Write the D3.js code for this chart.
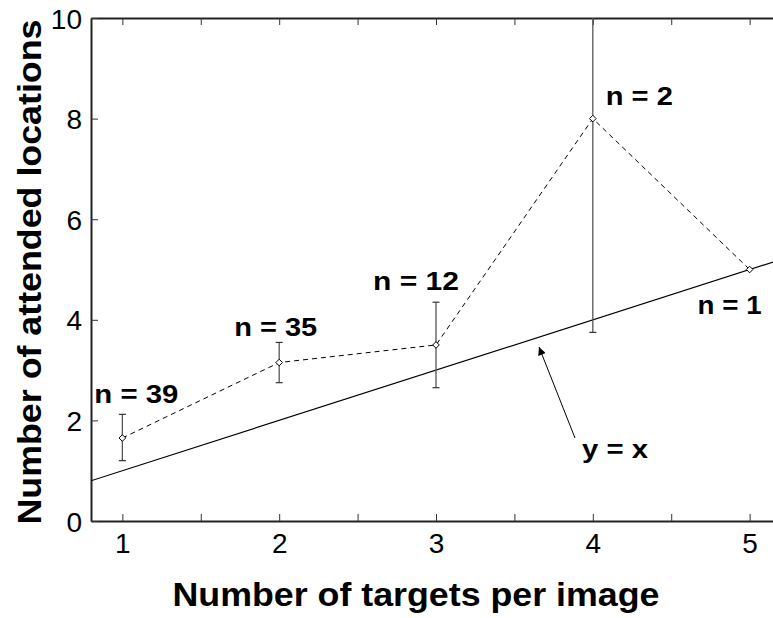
<!DOCTYPE html>
<html>
<head>
<meta charset="utf-8">
<script src="https://cdn.jsdelivr.net/npm/d3@7"></script>
<style>
  body { margin: 0; background: #fff; }
  text { font-family: "Liberation Sans", Arial, sans-serif; }
</style>
</head>
<body>
<svg width="773" height="618"></svg>
<script>
// data
var targets = [1, 2, 3, 4, 5];
var meanAttended = [1.65, 3.15, 3.5, 8, 5];
var errLow = [1.2, 2.75, 2.65, 3.75, null];
var errHigh = [2.12, 3.55, 4.35, 12.25, null];
var nLabels = ["n = 39", "n = 35", "n = 12", "n = 2", "n = 1"];
var xTicks = [1, 2, 3, 4, 5];
var yTicks = [0, 2, 4, 6, 8, 10];

var margin = {top: 18, right: -8, bottom: 97, left: 91};
var width = 773 - margin.left - margin.right,
    height = 618 - margin.top - margin.bottom;

var svg = d3.select("svg")
    .append("g")
    .attr("transform", "translate(" + margin.left + "," + margin.top + ")");

var x = d3.scaleLinear().domain([0.8, 5.2]).range([0, width]);
var y = d3.scaleLinear().domain([0, 10]).range([height, 0]);

svg.append("clipPath").attr("id", "plot")
    .append("rect").attr("width", width).attr("height", height);

// axes: ticks point inward, x has ticks every half unit
var minorX = d3.range(1, 5.01, 0.5);
var xAxis = d3.axisBottom(x).tickValues(minorX).tickSizeInner(-7).tickSizeOuter(0)
    .tickFormat(function(d) { return xTicks.indexOf(d) >= 0 ? d : ""; });
var gx = svg.append("g").attr("transform", "translate(0," + height + ")").call(xAxis);
gx.selectAll("text").attr("y", 32).attr("dy", 0).style("font-size", "28px").attr("fill", "#000");

svg.append("g").call(d3.axisTop(x).tickValues(minorX).tickSizeInner(-7).tickSizeOuter(0).tickFormat(""));

var yAxis = d3.axisLeft(y).tickValues(yTicks).tickSizeInner(-7).tickSizeOuter(0).tickFormat(d3.format("d"));
var gy = svg.append("g").call(yAxis);
gy.selectAll("text").attr("x", -9).attr("dy", "0.36em").style("font-size", "28px").attr("fill", "#000");

svg.selectAll(".domain").attr("stroke", "#222").attr("stroke-width", 2);
svg.selectAll(".tick line").attr("stroke", "#333");

var plot = svg.append("g").attr("clip-path", "url(#plot)");

// y = x reference line
plot.append("line")
    .attr("x1", x(0.8)).attr("y1", y(0.8))
    .attr("x2", x(5.2)).attr("y2", y(5.2))
    .attr("stroke", "#000").attr("stroke-width", 1.2);

// error bars
var bars = targets.map(function(t, i) { return {t: t, lo: errLow[i], hi: errHigh[i]}; })
    .filter(function(d) { return d.lo != null; });
plot.selectAll(".err").data(bars).enter().append("line")
    .attr("x1", function(d) { return x(d.t); }).attr("x2", function(d) { return x(d.t); })
    .attr("y1", function(d) { return y(d.lo); }).attr("y2", function(d) { return y(d.hi); })
    .attr("stroke", "#555").attr("stroke-width", 1.3);
["lo", "hi"].forEach(function(k) {
  plot.selectAll(".cap-" + k).data(bars).enter().append("line")
      .attr("x1", function(d) { return x(d.t) - 3.5; }).attr("x2", function(d) { return x(d.t) + 3.5; })
      .attr("y1", function(d) { return y(d[k]); }).attr("y2", function(d) { return y(d[k]); })
      .attr("stroke", "#333").attr("stroke-width", 1.2);
});

// dashed mean line
var line = d3.line().x(function(d, i) { return x(targets[i]); }).y(function(d) { return y(d); });
plot.append("path").datum(meanAttended)
    .attr("d", line).attr("fill", "none")
    .attr("stroke", "#000").attr("stroke-width", 1).attr("stroke-dasharray", "5,4");

// diamond markers
plot.selectAll(".pt").data(meanAttended).enter().append("path")
    .attr("d", d3.symbol().type(d3.symbolDiamond2).size(28))
    .attr("transform", function(d, i) { return "translate(" + x(targets[i]) + "," + y(d) + ")"; })
    .attr("fill", "#fff").attr("stroke", "#000").attr("stroke-width", 1);

// n labels: offsets from each point, widths matched to the reference
var labelPos = [[-28, -35], [-45, -27], [-63, -55], [13, -14], [-52, 44]];
var labelLen = [84, 83, 86, 67, 64];
svg.selectAll(".nlab").data(nLabels).enter().append("text")
    .attr("x", function(d, i) { return x(targets[i]) + labelPos[i][0]; })
    .attr("y", function(d, i) { return y(meanAttended[i]) + labelPos[i][1]; })
    .attr("textLength", function(d, i) { return labelLen[i]; })
    .attr("lengthAdjust", "spacingAndGlyphs")
    .style("font-size", "25px").style("font-weight", "bold")
    .text(function(d) { return d; });

// y = x annotation with arrow
svg.append("defs").append("marker").attr("id", "arrow")
    .attr("viewBox", "0 0 10 10").attr("refX", 10).attr("refY", 5)
    .attr("markerWidth", 11).attr("markerHeight", 8).attr("orient", "auto")
    .attr("markerUnits", "userSpaceOnUse")
    .append("path").attr("d", "M0,0L10,5L0,10z").attr("fill", "#000");
svg.append("line")
    .attr("x1", 575 - margin.left).attr("y1", 438 - margin.top)
    .attr("x2", 539 - margin.left).attr("y2", 347 - margin.top)
    .attr("stroke", "#000").attr("stroke-width", 1).attr("marker-end", "url(#arrow)");
svg.append("text").attr("x", 582 - margin.left).attr("y", 458 - margin.top)
    .attr("textLength", 66).attr("lengthAdjust", "spacingAndGlyphs")
    .style("font-size", "25px").style("font-weight", "bold").text("y = x");

// axis titles
svg.append("text")
    .attr("x", 416 - margin.left).attr("y", 606 - margin.top)
    .attr("text-anchor", "middle")
    .attr("textLength", 487).attr("lengthAdjust", "spacingAndGlyphs")
    .style("font-size", "33px").style("font-weight", "bold")
    .text("Number of targets per image");
svg.append("text")
    .attr("transform", "translate(" + (41 - margin.left) + "," + (272 - margin.top) + ") rotate(-90)")
    .attr("text-anchor", "middle")
    .attr("textLength", 505).attr("lengthAdjust", "spacingAndGlyphs")
    .style("font-size", "33px").style("font-weight", "bold")
    .text("Number of attended locations");
</script>
</body>
</html>
